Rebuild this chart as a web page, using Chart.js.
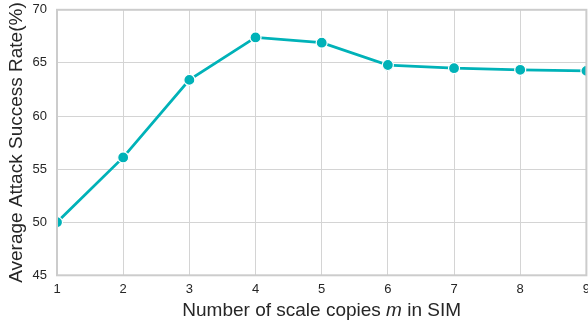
<!DOCTYPE html>
<html><head><meta charset="utf-8">
<script src="https://cdn.jsdelivr.net/npm/chart.js@4.4.1/dist/chart.umd.min.js"></script>
<style>
html,body{margin:0;padding:0;background:#fff;overflow:hidden;width:588px;height:326px;}
#wrap{position:absolute;left:0;top:-8px;width:596px;height:334px;}
</style></head>
<body>
<div id="wrap"><canvas id="c"></canvas></div>
<script>
const copies = [1, 2, 3, 4, 5, 6, 7, 8, 9];
const asr = [50.0, 56.1, 63.4, 67.4, 66.9, 64.8, 64.5, 64.35, 64.25];
const yTicks = [45, 50, 55, 60, 65, 70];
const yTitle = 'Average Attack Success Rate(%)';
const xTitleParts = [['Number of scale copies ', 'normal'], ['m', 'italic'], [' in SIM', 'normal']];

const FONT = "'Liberation Sans', Arial, sans-serif";
const TEAL = '#00b2b8';
const GRID = '#d4d4d4';
const TEXT = '#262626';
const TITLE_SIZE = 19;

const framePlugin = {
  id: 'frame',
  afterDraw(chart) {
    const {ctx, chartArea: a} = chart;
    ctx.save();
    ctx.strokeStyle = '#cccccc';
    ctx.lineWidth = 2;
    ctx.strokeRect(a.left, a.top, a.right - a.left, a.bottom - a.top);
    ctx.fillStyle = TEXT;
    ctx.textBaseline = 'alphabetic';
    // x title with italic m
    let widths = xTitleParts.map(([t, s]) => { ctx.font = s + ' ' + TITLE_SIZE + 'px ' + FONT; return ctx.measureText(t).width; });
    const total = widths.reduce((p, c) => p + c, 0);
    let x = (a.left + a.right) / 2 - total / 2;
    const y = a.bottom + 41;
    ctx.textAlign = 'left';
    xTitleParts.forEach(([t, s], i) => {
      ctx.font = s + ' ' + TITLE_SIZE + 'px ' + FONT;
      ctx.fillText(t, x, y);
      x += widths[i];
    });
    // y title
    ctx.font = 'normal ' + TITLE_SIZE + 'px ' + FONT;
    ctx.translate(22, (a.top + a.bottom) / 2);
    ctx.rotate(-Math.PI / 2);
    ctx.textAlign = 'center';
    ctx.fillText(yTitle, 0, 0);
    ctx.restore();
  }
};

new Chart(document.getElementById('c'), {
  type: 'line',
  data: {
    datasets: [{
      data: copies.map((c, i) => ({x: c, y: asr[i]})),
      borderColor: TEAL,
      backgroundColor: TEAL,
      borderWidth: 2.8,
      pointRadius: 5.5,
      pointBorderColor: '#ffffff',
      pointBorderWidth: 1.2,
      pointBackgroundColor: TEAL,
      tension: 0,
      clip: 0
    }]
  },
  options: {
    responsive: true,
    maintainAspectRatio: false,
    animation: false,
    layout: {padding: {top: 0, bottom: 0, left: 0, right: 0}},
    plugins: {legend: {display: false}, tooltip: {enabled: false}},
    scales: {
      x: {
        type: 'linear', min: 1, max: 9,
        afterFit(s) { s.height = 50.7; },
        ticks: {stepSize: 1, color: TEXT, font: {family: FONT, size: 13}, padding: 6},
        grid: {color: GRID, lineWidth: 1, drawTicks: false},
        border: {display: false}
      },
      y: {
        min: 45, max: 70,
        afterFit(s) { s.width = 57; },
        afterBuildTicks(s) { s.ticks = yTicks.map(v => ({value: v})); },
        ticks: {color: TEXT, font: {family: FONT, size: 13}, padding: 10},
        grid: {color: GRID, lineWidth: 1, drawTicks: false},
        border: {display: false}
      }
    }
  },
  plugins: [framePlugin]
});
</script>
</body></html>
